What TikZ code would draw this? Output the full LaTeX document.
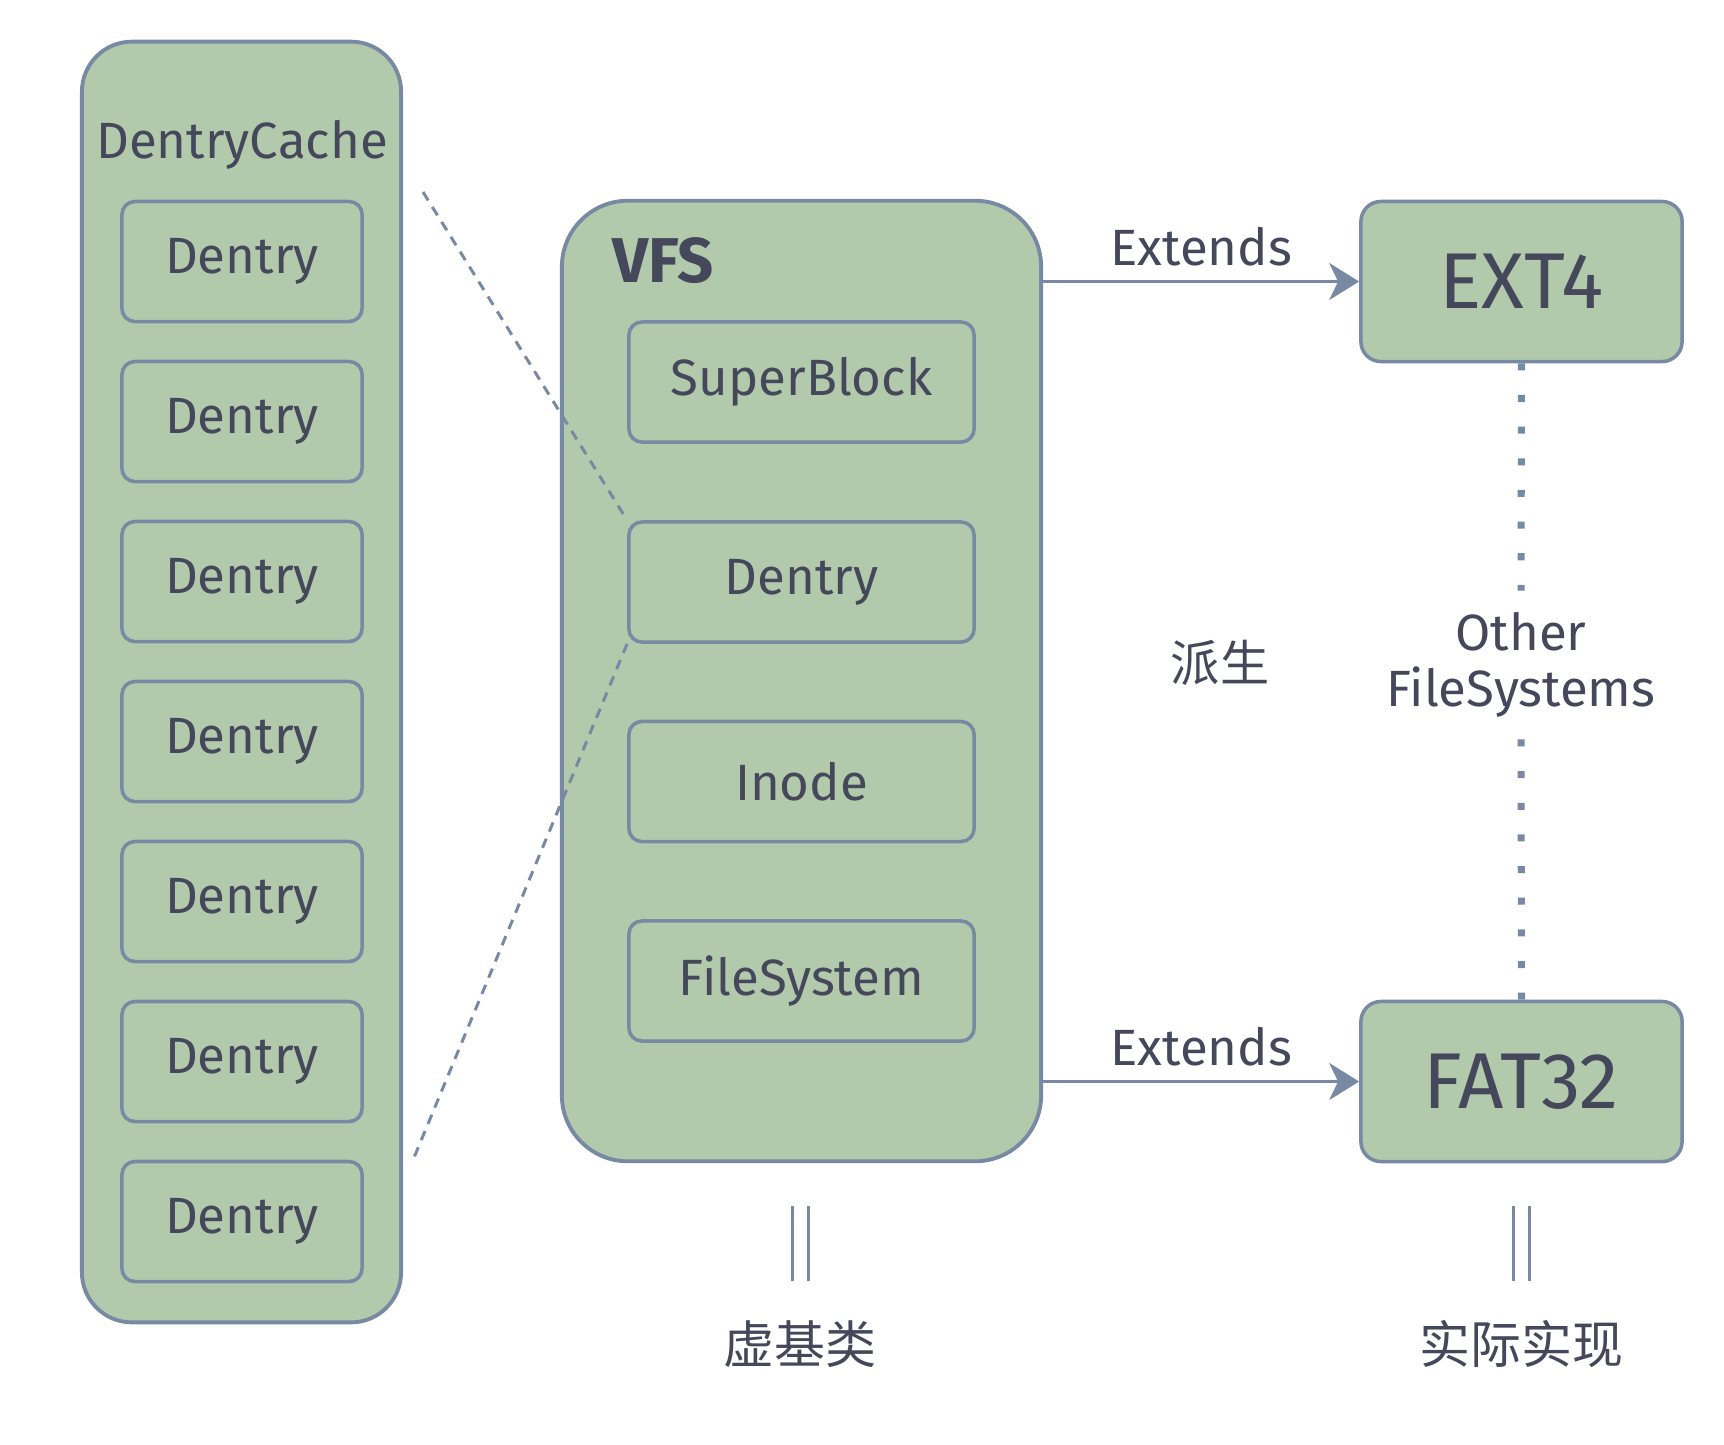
\documentclass[tikz,border=0pt]{standalone}
\usepackage{fontspec}
\setmainfont{Fira Sans}
\newfontfamily\cjk{Noto Sans CJK SC}
\usetikzlibrary{arrows.meta}
\definecolor{leaf}{HTML}{B2C9AB}
\definecolor{edge}{HTML}{788AA3}
\definecolor{ink}{HTML}{45475B}

\begin{document}
\begin{tikzpicture}[
		x=0.01cm,y=-0.01cm,
		font=\fontsize{14.5}{16}\selectfont,text=ink,
		box/.style={draw=edge,fill=leaf,line width=1pt,inner sep=0pt},
		outer/.style={box,line width=1.1pt,rounded corners=0.5cm},
		dentry/.style={box,rounded corners=0.13cm,minimum width=2.40cm,minimum height=1.20cm},
		part/.style={box,rounded corners=0.13cm,minimum width=3.45cm,minimum height=1.20cm},
		impl/.style={box,rounded corners=0.2cm,minimum width=3.21cm,minimum height=1.60cm,
			font=\fontsize{22.5}{24}\selectfont},
		arr/.style={-{Stealth[length=8.5pt,width=10.5pt,inset=2.5pt]},draw=edge,line width=1pt},
		zoomline/.style={draw=edge,line width=0.85pt,dash pattern=on 2.8pt off 2.2pt},
		dots/.style={draw=edge,line width=2pt,dash pattern=on 2pt off 7pt},
		eq/.style={draw=edge,line width=0.85pt,double=white,double distance=0.13cm},
		lbl/.style={inner sep=1pt}]
	\useasboundingbox (0,0) rectangle (1724,1444);
	
	% ---- Dentry cache column ----
	\node[outer,minimum width=3.19cm,minimum height=12.80cm] (cache) at (241.5,682) {};
	\node[lbl] (cachename) at (242,145) {DentryCache};
	\foreach \i in {1,...,7}
		\node[dentry] (d\i) at (242,101.5+160*\i) {Dentry};
	
	% ---- VFS ----
	\node[outer,rounded corners=0.66cm,minimum width=4.79cm,minimum height=9.60cm] (vfs) at (801.5,681) {};
	\node[lbl,font=\fontsize{18}{20}\selectfont\bfseries] (vfsname) at (663,261) {VFS};
	\node[part] (super) at (801.5,382) {SuperBlock};
	\node[part] (vdentry) at (801.5,582) {Dentry};
	\node[part] (inode) at (801.5,781.5) {Inode};
	\node[part] (fs) at (801.5,981) {FileSystem};
	
	% zoom lines from the cache to the VFS dentry
	\coordinate (cachetop) at (423,192);
	\coordinate (cachebot) at (413,1160);
	\draw[zoomline] (cachetop) -- (vdentry.north west);
	\draw[zoomline] (vdentry.south west) -- (cachebot);
	
	% ---- concrete file systems ----
	\node[impl] (ext4) at (1521.5,281.5) {EXT4};
	\node[impl] (fat32) at (1521.5,1081.5) {FAT32};
	\draw[arr] (vfs.east |- ext4.west) -- node[midway,above=3pt,lbl] (ext1) {Extends} (ext4.west);
	\draw[arr] (vfs.east |- fat32.west) -- node[midway,above=3pt,lbl] (ext2) {Extends} (fat32.west);
	
	\node[lbl,align=center,inner sep=6pt] (others) at (1521,665) {Other\\FileSystems};
	\draw[dots] (ext4.south) -- (others.north);
	\draw[dots] (others.south) -- (fat32.north);
	\node[lbl,font=\cjk\fontsize{14}{16}\selectfont] (derive) at (1220,663) {派生};
	
	% ---- bottom notes ----
	\coordinate (vb1) at (800,1206);
	\coordinate (vb2) at (800,1281);
	\coordinate (rb1) at (1521,1206);
	\coordinate (rb2) at (1521,1281);
	\draw[eq] (vb1) -- (vb2);
	\draw[eq] (rb1) -- (rb2);
	\node[lbl,font=\cjk\fontsize{14.5}{16}\selectfont] (virt) at (800,1344) {虚基类};
	\node[lbl,font=\cjk\fontsize{14.5}{16}\selectfont] (real) at (1521,1344) {实际实现};
	
\end{tikzpicture}
\end{document}
